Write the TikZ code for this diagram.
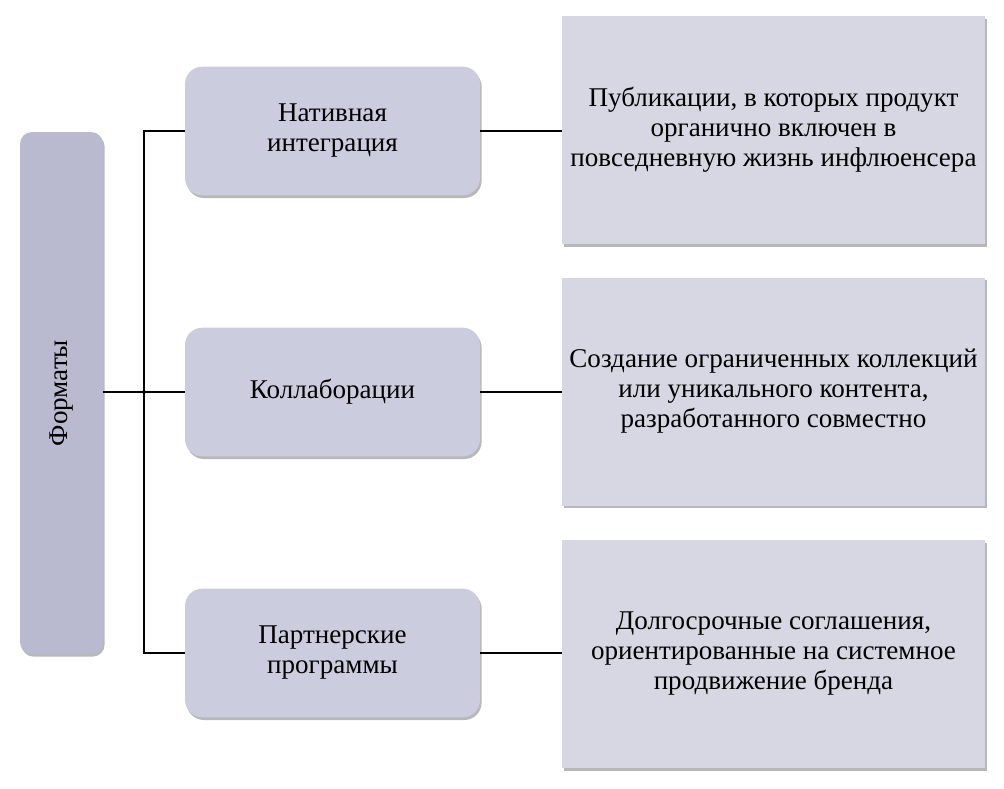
\documentclass[tikz,border=0pt]{standalone}
\usepackage{fontspec}
\setmainfont{Liberation Serif}
\usepackage{tikz}
\usetikzlibrary{positioning,shadows}
\definecolor{fmtfill}{HTML}{B9B9D0}
\definecolor{midfill}{HTML}{CBCCDD}
\definecolor{descfill}{HTML}{D7D7E3}
\begin{document}
\begin{tikzpicture}[x=0.75pt,y=-0.75pt,
  every node/.style={font=\fontsize{20.3}{22.5}\selectfont,align=center,inner sep=2pt},
  shade/.style={drop shadow={shadow xshift=1.2pt,shadow yshift=-2pt,opacity=0.28,fill=black}},
  fmt/.style={shade,fill=fmtfill,rounded corners=9pt,minimum width=62.25pt,minimum height=391.5pt},
  mid/.style={shade,fill=midfill,rounded corners=13pt,minimum width=221.25pt,minimum height=96.5pt},
  desc/.style={shade,fill=descfill,minimum width=317.25pt,minimum height=171pt},
  link/.style={line width=0.9pt}]
  \useasboundingbox (0,0) rectangle (1004,789);
  \node[fmt] (f) at (61.5,393) {};
  \node[rotate=90] (ft) at (f.center) {Форматы};
  \node[mid] (a) at (332.5,131) {Нативная\\интеграция};
  \node[mid] (b) at (332.5,392) {Коллаборации};
  \node[mid] (c) at (332.5,653) {Партнерские\\программы};
  \node[desc] (a2) at (773.5,130) {Публикации, в которых продукт\\органично включен в\\повседневную жизнь инфлюенсера};
  \node[desc] (b2) at (773.5,391.5) {Создание ограниченных коллекций\\или уникального контента,\\разработанного совместно};
  \node[desc] (c2) at (773.5,654) {Долгосрочные соглашения,\\ориентированные на системное\\продвижение бренда};
  \coordinate (bus) at (144,392);
  \draw[link] (f.east |- bus) -- (bus);
  \draw[link] (bus) |- (a.west);
  \draw[link] (bus) -- (b.west);
  \draw[link] (bus) |- (c.west);
  \draw[link] (a.east) -- (a.east -| a2.west);
  \draw[link] (b.east) -- (b.east -| b2.west);
  \draw[link] (c.east) -- (c.east -| c2.west);
\end{tikzpicture}
\end{document}
